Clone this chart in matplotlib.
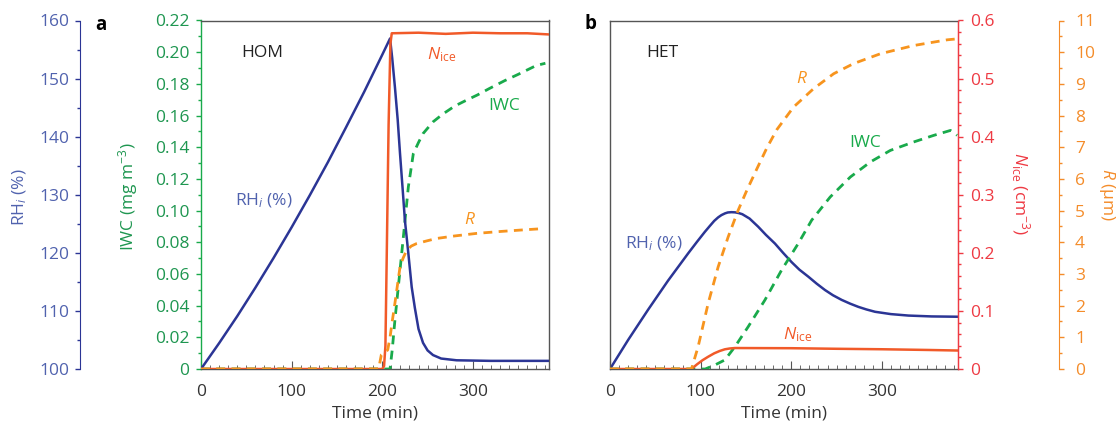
import matplotlib
matplotlib.use("Agg")
import matplotlib.pyplot as plt
from matplotlib.ticker import MultipleLocator

plt.rcParams["font.family"] = ["Open Sans", "DejaVu Sans"]
plt.rcParams["mathtext.fontset"] = "custom"
plt.rcParams["mathtext.rm"] = "Open Sans"
plt.rcParams["mathtext.it"] = "Open Sans:italic"

# colours
C_RH, C_RH_TXT = "#2b3595", "#5062ae"
C_IWC, C_IWC_TXT = "#19aa4b", "#1e9650"
C_N, C_N_TXT = "#f15a29", "#ee3a43"
C_R, C_R_TXT = "#f7941e", "#f48c2a"
C_FRAME = "#555555"

# ---- panel a (HOM) ----
t_rh_a = [0, 20, 40, 60, 80, 100, 120, 140, 160, 180, 200, 208.6, 211, 214, 217, 219.6,
          222.5, 225, 228.8, 232.5, 236, 240, 245, 250, 256, 265, 282, 320, 384]
rh_a = [100, 104.45, 109.1, 114.0, 119.1, 124.4, 129.9, 135.6, 141.6, 147.7, 154.1, 156.9,
        153.5, 148.5, 143.0, 137.1, 131.0, 125.6, 119.9, 114.1, 110.5, 106.9, 104.5, 103.2,
        102.4, 101.8, 101.5, 101.4, 101.4]

t_n_a = [0, 200, 202, 203.5, 205, 207, 209, 210.5, 240, 270, 300, 330, 360, 384]
n_a = [0, 0, 0.005, 0.04, 0.2, 0.42, 0.56, 0.578, 0.579, 0.577, 0.579, 0.578, 0.578, 0.576]

t_iwc_a = [0, 208.6, 211, 214, 219.6, 223.3, 228.8, 234.3, 240, 245, 256, 267, 280, 292.6,
           305, 318, 335, 350, 370, 380]
iwc_a = [0, 0, 0.012, 0.031, 0.0624, 0.0834, 0.115, 0.136, 0.143, 0.1486, 0.156, 0.161,
         0.166, 0.1696, 0.173, 0.177, 0.182, 0.186, 0.1916, 0.193]

t_r_a = [0, 196, 199, 206, 208.6, 211, 214, 219.6, 223, 227, 232, 238, 250, 260, 280, 304,
         330, 355, 377]
r_a = [0, 0, 0.45, 0.6, 1.0, 1.5, 2.08, 3.22, 3.5, 3.75, 3.88, 3.96, 4.05, 4.12, 4.2, 4.28,
       4.34, 4.39, 4.43]

# ---- panel b (HET) ----
t_rh_b = [0, 20, 42, 64, 86.2, 96, 104.6, 110, 115, 119.3, 123, 127, 130, 134, 138, 142,
          146, 154, 163.5, 172, 182, 191, 200.4, 209, 218.8, 228, 237.2, 246, 255.6, 265,
          274, 283, 292.5, 310, 329.3, 355, 384]
rh_b = [100, 105.0, 110.2, 115.2, 119.9, 121.9, 123.6, 124.6, 125.5, 126.1, 126.5, 126.8,
        126.95, 127.0, 126.97, 126.85, 126.65, 125.9, 124.5, 123.1, 121.6, 120.0, 118.4,
        117.1, 115.9, 114.7, 113.6, 112.7, 111.9, 111.25, 110.7, 110.25, 109.85, 109.45,
        109.2, 109.05, 109.0]

t_n_b = [0, 89.9, 96, 102, 108.3, 115, 121, 126.7, 132, 137.8, 200, 250, 300, 350, 384]
n_b = [0, 0, 0.008, 0.015, 0.0211, 0.027, 0.031, 0.0339, 0.0353, 0.0361, 0.0358, 0.0348,
       0.034, 0.0328, 0.0318]

t_r_b = [0, 89.9, 97.2, 108.3, 119.3, 130.4, 141.4, 151, 162.1, 173.1, 184.2, 202.6, 224.7,
         246.8, 268.8, 298.3, 335.1, 372, 383]
r_b = [0, 0, 0.70, 2.07, 3.22, 4.17, 5.01, 5.64, 6.32, 6.98, 7.56, 8.27, 8.85, 9.32, 9.64,
       9.95, 10.21, 10.39, 10.42]

t_iwc_b = [0, 105, 115.7, 126.7, 137.8, 152.5, 170.9, 189.3, 207.7, 222.5, 243, 265.2,
           287.3, 309.4, 335, 357.3, 375.7, 383]
iwc_b = [0, 0, 0.0025, 0.0057, 0.014, 0.0267, 0.0435, 0.0624, 0.0792, 0.0939, 0.1086,
         0.1212, 0.1307, 0.138, 0.1433, 0.1475, 0.1506, 0.1475]

W, H = 1118, 426
DASH = (3.2, 2.3)
FS = 12.5


def style_x(ax):
    ax.set_xlim(0, 384)
    ax.xaxis.set_major_locator(MultipleLocator(100))
    ax.xaxis.set_minor_locator(MultipleLocator(10))
    ax.tick_params(axis="x", which="both", direction="in", colors=C_FRAME, labelcolor="#333333",
                   labelsize=FS, pad=11)
    ax.tick_params(axis="x", which="major", length=6)
    ax.tick_params(axis="x", which="minor", length=3)
    ax.set_xlabel("Time (min)", fontsize=FS, color="#333333", labelpad=4)
    for s in ax.spines.values():
        s.set_color(C_FRAME)
        s.set_linewidth(1)


def hide_all(ax):
    for s in ax.spines.values():
        s.set_visible(False)
    ax.set_yticks([])


def y_side(ax, side, color, txtcolor, lo, hi, major, minor, fmt, pad):
    ax.set_ylim(lo, hi)
    ax.yaxis.set_major_locator(MultipleLocator(major))
    ax.yaxis.set_minor_locator(MultipleLocator(minor))
    ax.yaxis.set_major_formatter(fmt)
    ax.yaxis.set_ticks_position(side)
    ax.tick_params(axis="y", which="both", direction="out", color=color, labelcolor=txtcolor,
                   labelsize=FS, pad=pad, width=1)
    ax.tick_params(axis="y", which="major", length=3.5)
    ax.tick_params(axis="y", which="minor", length=2.2)
    ax.spines[side].set_color(color)
    ax.spines[side].set_visible(True)


def iwc_fmt(v, pos):
    return "0" if abs(v) < 1e-9 else f"{v:.2f}"


def n_fmt(v, pos):
    return "0" if abs(v) < 1e-9 else f"{v:.1f}"


fig = plt.figure(figsize=(W / 100, H / 100), dpi=100)

# panel a
axa = fig.add_axes([201 / W, 1 - 369 / H, 348 / W, 348.5 / H])
style_x(axa)
y_side(axa, "left", C_IWC, C_IWC_TXT, 0, 0.22, 0.02, 0.01, iwc_fmt, 5)

rha = axa.twinx()
hide_all(rha)
y_side(rha, "left", C_RH, C_RH_TXT, 100, 160, 10, 5, lambda v, p: f"{v:.0f}", 4.3)
rha.spines["left"].set_position(("axes", -121 / 348))
rha.yaxis.set_label_position("left")

na = axa.twinx()
hide_all(na)
na.set_ylim(0, 0.6)
ra = axa.twinx()
hide_all(ra)
ra.set_ylim(0, 11)

axa.plot(t_iwc_a, iwc_a, color=C_IWC, lw=2.0, dashes=DASH, zorder=3)
ra.plot(t_r_a, r_a, color=C_R, lw=2.0, dashes=DASH)
na.plot(t_n_a, n_a, color=C_N, lw=1.8)
rha.plot(t_rh_a, rh_a, color=C_RH, lw=1.8)
for ax in (rha, na, ra):
    ax.set_xlim(0, 384)

# panel b
axb = fig.add_axes([610 / W, 1 - 369 / H, 348 / W, 348.5 / H])
style_x(axb)
axb.set_ylim(100, 160)
axb.set_yticks([])
axb.spines["right"].set_color(C_N_TXT)

iwcb = axb.twinx()
hide_all(iwcb)
iwcb.set_ylim(0, 0.22)

nb = axb.twinx()
hide_all(nb)
y_side(nb, "right", C_N_TXT, C_N_TXT, 0, 0.6, 0.1, 0.02, n_fmt, 5)

rb = axb.twinx()
hide_all(rb)
y_side(rb, "right", C_R_TXT, C_R_TXT, 0, 11, 1, 0.5, lambda v, p: f"{v:.0f}", 8)
rb.spines["right"].set_position(("axes", 1 + 101 / 348))

axb.plot(t_rh_b, rh_b, color=C_RH, lw=1.8)
iwcb.plot(t_iwc_b, iwc_b, color=C_IWC, lw=2.0, dashes=DASH)
nb.plot(t_n_b, n_b, color=C_N, lw=1.8)
rb.plot(t_r_b, r_b, color=C_R, lw=2.0, dashes=DASH)
for ax in (iwcb, nb, rb):
    ax.set_xlim(0, 384)


def ftext(x, y, s, size=FS, **kw):
    fig.text(x / W, 1 - y / H, s, ha="center", va="center", fontsize=size, **kw)


# axis titles
ftext(20, 197, r"RH$_i$ (%)", color=C_RH_TXT, rotation=90)
ftext(128, 197, r"IWC (mg m$^{-3}$)", color=C_IWC_TXT, rotation=90)
ftext(1020, 194, r"$N_{\rm ice}$ (cm$^{-3}$)", color=C_N_TXT, rotation=-90)
ftext(1107, 194, r"$R$ (μm)", color=C_R_TXT, rotation=-90)

# panel letters
ftext(101, 25, "a", size=13.5, color="black", fontweight="bold")
ftext(591, 24, "b", size=13.5, color="black", fontweight="bold")

# in-plot labels, panel a
ftext(262, 53, "HOM", color="#222222")
ftext(442, 55, r"$N_{\rm ice}$", color=C_N)
ftext(504, 106, "IWC", color=C_IWC)
ftext(470, 220, r"$R$", color=C_R)
ftext(264, 201, r"RH$_i$ (%)", color=C_RH_TXT)

# in-plot labels, panel b
ftext(662, 53, "HET", color="#222222")
ftext(802, 79, r"$R$", color=C_R)
ftext(865, 143, "IWC", color=C_IWC)
ftext(654, 244, r"RH$_i$ (%)", color=C_RH_TXT)
ftext(798, 335, r"$N_{\rm ice}$", color=C_N)

fig.savefig("out.png", dpi=100)
